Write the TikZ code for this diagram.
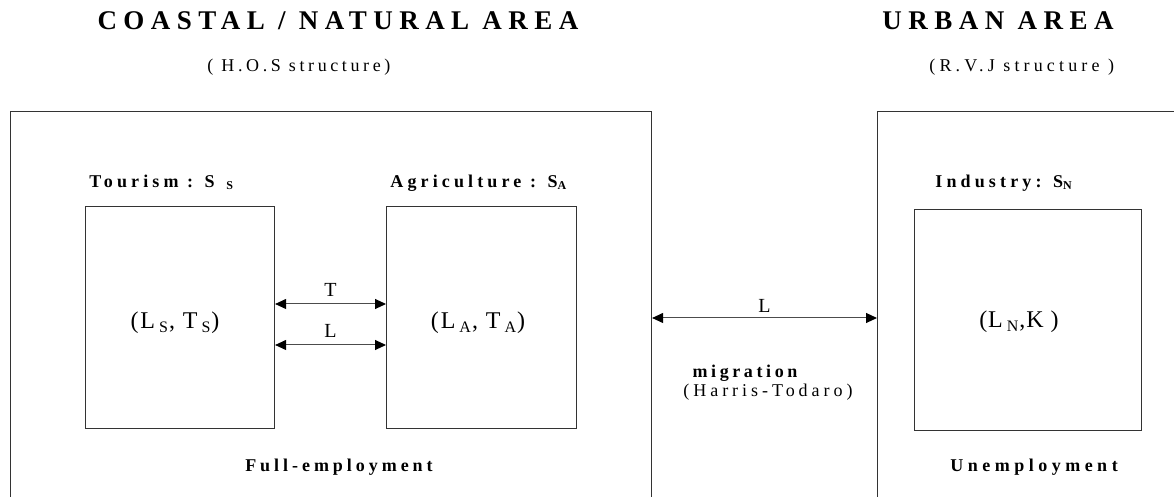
\documentclass[tikz,border=0pt]{standalone}
\usepackage{fontspec}
\setmainfont{Liberation Serif}
\usetikzlibrary{arrows.meta}
\begin{document}
\begin{tikzpicture}[x=0.5pt,y=-0.5pt,
  sectorbox/.style={draw=black!80, line width=0.55pt, inner sep=0pt, anchor=north west},
  dbl/.style={{Triangle[length=5.5pt,width=5pt,color=black]}-{Triangle[length=5.5pt,width=5pt,color=black]}, line width=0.5pt, draw=black!70},
  ttl/.style={inner sep=0pt, anchor=base, font=\fontsize{13.5}{16}\selectfont\bfseries\addfontfeature{LetterSpace=24}},
  subt/.style={inner sep=0pt, anchor=base west, font=\fontsize{9}{11}\selectfont\addfontfeature{LetterSpace=20}},
  lbl/.style={inner sep=0pt, anchor=base west, font=\fontsize{9}{11}\selectfont\bfseries\addfontfeature{LetterSpace=23}},
  boxtxt/.style={inner sep=0pt, anchor=base, font=\fontsize{12}{14}\selectfont\addfontfeature{LetterSpace=8}},
  arrlbl/.style={font=\fontsize{10}{12}\selectfont},
  note/.style={inner sep=0pt, anchor=base, font=\fontsize{9}{11}\selectfont\addfontfeature{LetterSpace=22}},
  bnote/.style={inner sep=0pt, anchor=base, font=\fontsize{9}{11}\selectfont\bfseries\addfontfeature{LetterSpace=22}}
]
\useasboundingbox (0,0) rectangle (1174,497);
\clip (0,0) rectangle (1174,497);
\fill[white] (0,0) rectangle (1174,497);

% titles
\node[ttl] (t1) at (338,30) {COASTAL / NATURAL AREA};
\node[ttl] (t2) at (998,30) {URBAN AREA};
\node[subt] (s1) at (207,72) {( H.O.S structure)};
\node[subt, font=\fontsize{9}{11}\selectfont\addfontfeature{LetterSpace=23}] (s2) at (929,72) {(R.V.J structure )};

% outer areas (open at the bottom / right)
\node[sectorbox, minimum width=320.5pt, minimum height=214.5pt] (coast) at (10,111) {};
\node[sectorbox, minimum width=171.5pt, minimum height=214.5pt] (urban) at (877,111) {};

% sector labels
\node[lbl] (ltour) at (89,188) {Tourism : S\ \,\textsubscript{S}};
\node[lbl] (lagri) at (390,188) {Agriculture : S\textsubscript{A}};
\node[lbl] (lind) at (935,188) {Industry: S\textsubscript{N}};

% sector boxes
\node[sectorbox, minimum width=94.5pt, minimum height=111pt] (tour) at (85,206) {};
\node[sectorbox, minimum width=95pt, minimum height=111pt] (agri) at (386,206) {};
\node[sectorbox, minimum width=113.5pt, minimum height=110.5pt] (ind) at (914,209) {};

% box contents
\node[boxtxt] (xtour) at (175,329) {(L\,\textsubscript{S}, T\,\textsubscript{S})};
\node[boxtxt] (xagri) at (478,329) {(L\,\textsubscript{A}, T\,\textsubscript{A})};
\node[boxtxt, font=\fontsize{12}{14}\selectfont\addfontfeature{LetterSpace=4}] (xind) at (1019,328) {(L\,\textsubscript{N},K )};

% flows
\coordinate (yT) at (0,304);
\coordinate (yL) at (0,345);
\coordinate (yM) at (0,318);
\draw[dbl] (tour.east |- yT) -- node[arrlbl, above, inner sep=3.3pt] (lT) {T} (agri.west |- yT);
\draw[dbl] (tour.east |- yL) -- node[arrlbl, above, inner sep=3.3pt] (lL) {L} (agri.west |- yL);
\draw[dbl] (coast.east |- yM) -- node[arrlbl, above, inner sep=2.5pt] (lM) {L} (urban.west |- yM);

% notes
\node[bnote, font=\fontsize{9}{11}\selectfont\bfseries\addfontfeature{LetterSpace=20}] (mig) at (745,378) {migration};
\node[note] (ht) at (768,397) {(Harris-Todaro)};
\node[bnote] (full) at (339,472) {Full-employment};
\node[bnote, font=\fontsize{9}{11}\selectfont\bfseries\addfontfeature{LetterSpace=25}] (unemp) at (1034,472) {Unemployment};
\end{tikzpicture}
\end{document}
